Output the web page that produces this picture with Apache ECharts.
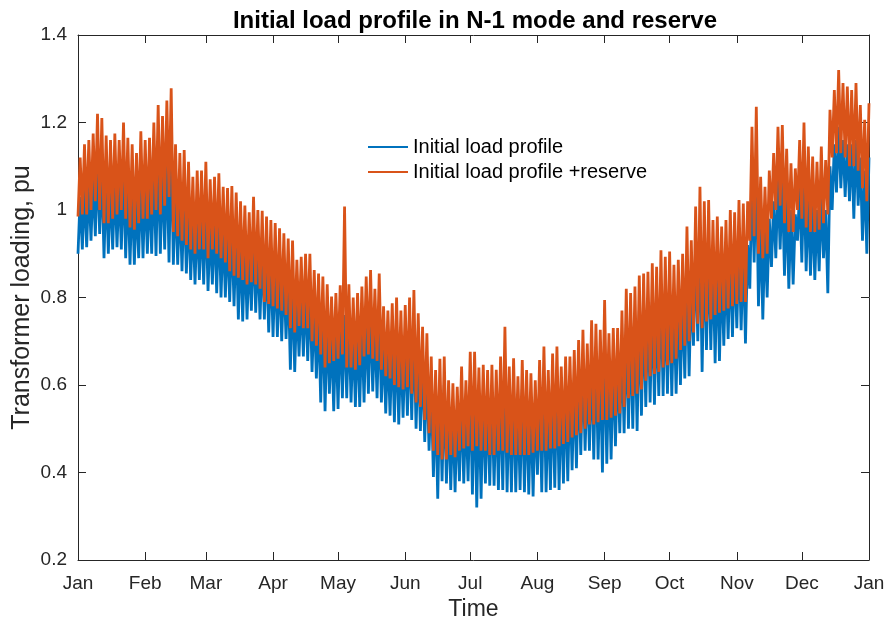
<!DOCTYPE html>
<html>
<head>
<meta charset="utf-8">
<script src="https://cdn.jsdelivr.net/npm/echarts@6/dist/echarts.min.js"></script>
<style>
  html, body { margin: 0; padding: 0; background: #ffffff; }
  #chart { width: 890px; height: 622px; }
</style>
</head>
<body>
<div id="chart"></div>
<script>
// Month boundaries (day of year) and their labels
const monthStarts = [0, 31, 59, 90, 120, 151, 181, 212, 243, 273, 304, 334, 365];
const monthNames = ['Jan', 'Feb', 'Mar', 'Apr', 'May', 'Jun', 'Jul', 'Aug', 'Sep', 'Oct', 'Nov', 'Dec', 'Jan'];

// Loading levels are sampled every 2 days: a trough on the sample day, a peak on the next day
const sampleStep = 2;

// Initial load profile: daily troughs and peaks, pu
const baseLow = [
  0.9, 0.91, 0.915, 0.93, 0.94, 0.945, 0.89, 0.9, 0.91, 0.915,
  0.91, 0.89, 0.875, 0.875, 0.89, 0.89, 0.9, 0.9, 0.895, 0.9,
  0.91, 0.88, 0.875, 0.875, 0.86, 0.855, 0.84, 0.83, 0.84, 0.83,
  0.815, 0.83, 0.81, 0.8, 0.8, 0.79, 0.78, 0.75, 0.745, 0.75,
  0.77, 0.765, 0.75, 0.75, 0.72, 0.71, 0.71, 0.7, 0.705, 0.635,
  0.63, 0.665, 0.665, 0.655, 0.63, 0.615, 0.56, 0.54, 0.58, 0.54,
  0.545, 0.57, 0.57, 0.56, 0.55, 0.55, 0.56, 0.58, 0.585, 0.57,
  0.56, 0.535, 0.53, 0.515, 0.51, 0.525, 0.53, 0.52, 0.5, 0.495,
  0.47, 0.45, 0.39, 0.34, 0.38, 0.375, 0.36, 0.355, 0.38, 0.375,
  0.38, 0.35, 0.32, 0.34, 0.375, 0.37, 0.37, 0.36, 0.36, 0.355,
  0.355, 0.355, 0.36, 0.355, 0.35, 0.345, 0.395, 0.355, 0.355, 0.36,
  0.365, 0.36, 0.375, 0.38, 0.405, 0.41, 0.44, 0.45, 0.45, 0.43,
  0.43, 0.4, 0.42, 0.43, 0.46, 0.49, 0.49, 0.5, 0.5, 0.495,
  0.53, 0.55, 0.56, 0.555, 0.575, 0.575, 0.58, 0.575, 0.58, 0.6,
  0.615, 0.62, 0.69, 0.7, 0.63, 0.68, 0.68, 0.65, 0.655, 0.69,
  0.705, 0.71, 0.73, 0.725, 0.695, 0.82, 0.88, 0.78, 0.75, 0.8,
  0.87, 0.89, 0.91, 0.85, 0.82, 0.83, 0.93, 0.88, 0.86, 0.85,
  0.84, 0.86, 0.89, 0.81, 1.0, 1.04, 1.05, 1.03, 1.02, 0.98,
  1.01, 0.93, 0.9
];
const baseHigh = [
  1.03, 1.05, 1.06, 1.07, 1.11, 1.1, 1.07, 1.06, 1.07, 1.06,
  1.09, 1.06, 1.05, 1.03, 1.07, 1.06, 1.06, 1.09, 1.12, 1.1,
  1.13, 1.16, 1.05, 1.03, 1.04, 1.01, 0.98, 0.99, 0.99, 1.01,
  0.97, 0.98, 0.99, 0.96, 0.95, 0.96, 0.95, 0.93, 0.92, 0.9,
  0.94, 0.91, 0.91, 0.9, 0.89, 0.88, 0.87, 0.86, 0.85, 0.84,
  0.8, 0.81, 0.82, 0.82, 0.78, 0.77, 0.77, 0.75, 0.72, 0.73,
  0.75, 0.76, 0.75, 0.72, 0.73, 0.74, 0.76, 0.78, 0.74, 0.77,
  0.7, 0.69, 0.71, 0.72, 0.69, 0.7, 0.72, 0.73, 0.68, 0.66,
  0.64, 0.6, 0.57, 0.59, 0.6, 0.55, 0.54, 0.54, 0.58, 0.55,
  0.6, 0.6, 0.57, 0.58, 0.57, 0.58, 0.57, 0.6, 0.62, 0.58,
  0.59, 0.56, 0.59, 0.57, 0.56, 0.55, 0.59, 0.62, 0.57, 0.6,
  0.62, 0.58, 0.6, 0.6, 0.61, 0.63, 0.65, 0.63, 0.67, 0.67,
  0.65, 0.7, 0.65, 0.66, 0.66, 0.69, 0.74, 0.73, 0.74, 0.77,
  0.77, 0.78, 0.79, 0.78, 0.82, 0.8, 0.81, 0.79, 0.8, 0.81,
  0.86, 0.84, 0.91, 0.95, 0.92, 0.92, 0.88, 0.89, 0.87, 0.88,
  0.9, 0.9, 0.92, 0.91, 0.92, 1.07, 1.11, 0.97, 0.95, 0.98,
  1.02, 1.07, 1.07, 1.03, 1.0, 0.99, 1.05, 1.08, 1.03, 1.01,
  1.0, 1.03, 1.0, 1.1, 1.15, 1.19, 1.16, 1.15, 1.15, 1.16,
  1.12, 1.09, 1.12
];

// Initial load profile + reserve: daily troughs and peaks, pu
const reserveLow = [
  0.985, 0.99, 0.99, 1.0, 1.02, 1.0, 0.97, 0.97, 0.98, 0.99,
  1.0, 0.98, 0.96, 0.955, 0.97, 0.98, 0.98, 0.99, 1.0, 0.99,
  1.01, 1.03, 0.95, 0.94, 0.93, 0.92, 0.91, 0.9, 0.91, 0.91,
  0.89, 0.91, 0.9, 0.89, 0.88, 0.86, 0.85, 0.845, 0.84, 0.83,
  0.835, 0.83, 0.82, 0.79, 0.785, 0.78, 0.775, 0.77, 0.76, 0.73,
  0.72, 0.735, 0.73, 0.73, 0.7, 0.69, 0.67, 0.64, 0.65, 0.655,
  0.66, 0.67, 0.64, 0.64, 0.635, 0.645, 0.665, 0.67, 0.66, 0.655,
  0.635, 0.62, 0.615, 0.6, 0.595, 0.59, 0.595, 0.58, 0.56, 0.55,
  0.52, 0.49, 0.45, 0.44, 0.43, 0.43, 0.44, 0.435, 0.45, 0.455,
  0.46, 0.45, 0.46, 0.45, 0.45, 0.44, 0.44, 0.45, 0.45, 0.445,
  0.44, 0.44, 0.44, 0.44, 0.44, 0.445, 0.45, 0.45, 0.45, 0.455,
  0.455, 0.46, 0.465, 0.47, 0.48, 0.485, 0.49, 0.5, 0.51, 0.51,
  0.515, 0.52, 0.52, 0.525, 0.53, 0.535, 0.55, 0.57, 0.575, 0.58,
  0.59, 0.61, 0.62, 0.625, 0.63, 0.64, 0.645, 0.65, 0.66, 0.68,
  0.69, 0.7, 0.72, 0.74, 0.73, 0.745, 0.75, 0.76, 0.765, 0.77,
  0.775, 0.78, 0.785, 0.79, 0.79, 0.93, 0.94, 0.9, 0.89, 0.9,
  0.98, 1.0, 1.01, 0.97, 0.95, 0.95, 1.0, 0.98, 0.96, 0.95,
  0.95, 0.955, 0.97, 0.99, 1.12, 1.13, 1.13, 1.12, 1.1, 1.1,
  1.09, 1.05, 1.02
];
const reserveHigh = [
  1.12, 1.15, 1.16, 1.175, 1.22, 1.21, 1.17, 1.16, 1.175, 1.16,
  1.2, 1.165, 1.15, 1.13, 1.18, 1.16, 1.165, 1.2, 1.24, 1.215,
  1.25, 1.278, 1.15, 1.13, 1.137, 1.11, 1.076, 1.09, 1.09, 1.11,
  1.07, 1.076, 1.084, 1.053, 1.05, 1.055, 1.04, 1.02, 1.01, 0.995,
  1.03, 1.0, 0.998, 0.985, 0.977, 0.97, 0.958, 0.947, 0.935, 0.93,
  0.886, 0.893, 0.9, 0.9, 0.863, 0.855, 0.848, 0.83, 0.802, 0.81,
  0.828, 1.008, 0.83, 0.8, 0.81, 0.825, 0.848, 0.863, 0.82, 0.855,
  0.78, 0.77, 0.787, 0.8, 0.77, 0.783, 0.8, 0.817, 0.764, 0.733,
  0.718, 0.665, 0.634, 0.66, 0.665, 0.611, 0.604, 0.596, 0.642, 0.611,
  0.676, 0.676, 0.64, 0.646, 0.634, 0.646, 0.635, 0.665, 0.733, 0.642,
  0.661, 0.62, 0.657, 0.634, 0.627, 0.611, 0.657, 0.688, 0.634, 0.672,
  0.688, 0.642, 0.665, 0.665, 0.68, 0.703, 0.726, 0.695, 0.748, 0.74,
  0.726, 0.794, 0.718, 0.73, 0.73, 0.77, 0.82, 0.81, 0.825, 0.85,
  0.855, 0.859, 0.878, 0.87, 0.908, 0.893, 0.905, 0.875, 0.886, 0.9,
  0.962, 0.931, 1.008, 1.053, 1.02, 1.023, 0.977, 0.985, 0.962, 0.977,
  1.0, 0.995, 1.023, 1.015, 1.02, 1.19, 1.236, 1.076, 1.053, 1.09,
  1.13, 1.19, 1.194, 1.14, 1.107, 1.095, 1.16, 1.2, 1.145, 1.122,
  1.11, 1.145, 1.114, 1.229, 1.274, 1.32, 1.29, 1.282, 1.274, 1.29,
  1.24, 1.206, 1.244
];

// Pair each trough with the following peak to form the oscillating load curve
function loadCurve(low, high) {
  const pts = [];
  for (let k = 0; k < low.length; k++) {
    pts.push([k * sampleStep, low[k]]);
    pts.push([k * sampleStep + 1, high[k]]);
  }
  return pts;
}

const FONT = 'Liberation Sans, Arial, Helvetica, sans-serif';
const AXIS_COLOR = '#262626';
const BLUE = '#0072BD';
const ORANGE = '#D95319';

const boxAxis = {
  axisLine: { show: true, onZero: false, lineStyle: { color: AXIS_COLOR, width: 1 } },
  splitLine: { show: false }
};

const chart = echarts.init(document.getElementById('chart'), null, { renderer: 'canvas' });

chart.setOption({
  animation: false,
  backgroundColor: '#ffffff',
  title: {
    text: 'Initial load profile in N-1 mode and reserve',
    left: 470,
    top: 4,
    textAlign: 'center',
    textStyle: { fontFamily: FONT, fontSize: 24, fontWeight: 'bold', color: '#000000' }
  },
  grid: { left: 78, right: 21, top: 35, bottom: 62, containLabel: false, outerBoundsMode: 'none' },
  legend: {
    orient: 'vertical',
    left: 363,
    top: 132,
    itemWidth: 40,
    itemHeight: 2,
    itemGap: 5,
    icon: 'rect',
    textStyle: { fontFamily: FONT, fontSize: 20, color: '#000000' },
    data: ['Initial load profile', 'Initial load profile +reserve']
  },
  xAxis: [
    Object.assign({}, boxAxis, {
      type: 'value', min: 0, max: 365, position: 'bottom',
      axisTick: { show: true, inside: true, length: 8, customValues: monthStarts, lineStyle: { color: AXIS_COLOR } },
      axisLabel: {
        customValues: monthStarts,
        formatter: function (v) { return monthNames[monthStarts.indexOf(v)]; },
        fontFamily: FONT, fontSize: 19, color: AXIS_COLOR, margin: 14
      },
      name: 'Time', nameLocation: 'middle', nameGap: 38, nameMoveOverlap: false,
      nameTextStyle: { fontFamily: FONT, fontSize: 23, color: AXIS_COLOR }
    }),
    Object.assign({}, boxAxis, {
      type: 'value', min: 0, max: 365, position: 'top',
      axisTick: { show: true, inside: true, length: 8, customValues: monthStarts, lineStyle: { color: AXIS_COLOR } },
      axisLabel: { show: false }
    })
  ],
  yAxis: [
    Object.assign({}, boxAxis, {
      type: 'value', min: 0.2, max: 1.4, interval: 0.2, position: 'left',
      axisTick: { show: true, inside: true, length: 8, lineStyle: { color: AXIS_COLOR } },
      axisLabel: { fontFamily: FONT, fontSize: 19, color: AXIS_COLOR, margin: 11 },
      name: 'Transformer loading, pu', nameLocation: 'middle', nameGap: 43, nameMoveOverlap: false,
      nameTextStyle: { fontFamily: FONT, fontSize: 25, color: AXIS_COLOR }
    }),
    Object.assign({}, boxAxis, {
      type: 'value', min: 0.2, max: 1.4, interval: 0.2, position: 'right',
      axisTick: { show: true, inside: true, length: 8, lineStyle: { color: AXIS_COLOR } },
      axisLabel: { show: false }
    })
  ],
  series: [
    {
      name: 'Initial load profile',
      type: 'line',
      xAxisIndex: 0, yAxisIndex: 0,
      data: loadCurve(baseLow, baseHigh),
      showSymbol: false,
      symbol: 'none',
      sampling: null,
      color: BLUE,
      lineStyle: { color: BLUE, width: 2.8, join: 'bevel' },
      z: 2
    },
    {
      name: 'Initial load profile +reserve',
      type: 'line',
      xAxisIndex: 0, yAxisIndex: 0,
      data: loadCurve(reserveLow, reserveHigh),
      showSymbol: false,
      symbol: 'none',
      sampling: null,
      color: ORANGE,
      lineStyle: { color: ORANGE, width: 2.8, join: 'bevel' },
      z: 3
    }
  ]
});
</script>
</body>
</html>
